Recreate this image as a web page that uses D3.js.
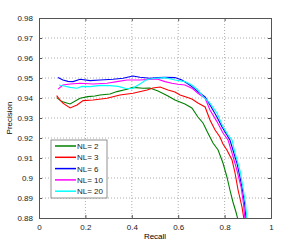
<!DOCTYPE html>
<html lang="en">
<head>
<meta charset="utf-8">
<title>precision recall</title>
<script src="https://cdn.jsdelivr.net/npm/d3@7"></script>
<style>
body { margin: 0; background: #fff; }
text { font-family: "Liberation Sans", Arial, sans-serif; }
</style>
</head>
<body>
<script>
var w = 300, h = 245;
var margin = {top: 18, right: 29, bottom: 27, left: 39};

// series names and colours
var names = ["NL= 2", "NL= 3", "NL= 6", "NL= 10", "NL= 20"];
var colors = ["#008000", "#ff0000", "#0000ff", "#ff00ff", "#00ffff"];

// [recall, precision]
var nl2 = [[0.076,0.9402],[0.098,0.9382],[0.134,0.937],[0.177,0.9399],[0.211,0.9407],[0.241,0.941],[0.263,0.9415],[0.306,0.942],[0.336,0.9432],[0.379,0.9444],[0.405,0.9453],[0.448,0.9449],[0.478,0.945],[0.513,0.9435],[0.556,0.941],[0.586,0.939],[0.629,0.937],[0.659,0.935],[0.685,0.9305],[0.707,0.9275],[0.728,0.9225],[0.75,0.9175],[0.772,0.914],[0.793,0.9075],[0.81,0.9005],[0.823,0.894],[0.836,0.888],[0.849,0.883],[0.858,0.879]];
var nl3 = [[0.076,0.9412],[0.091,0.939],[0.103,0.9374],[0.134,0.935],[0.164,0.9365],[0.19,0.9387],[0.233,0.939],[0.293,0.9399],[0.349,0.9415],[0.405,0.9424],[0.466,0.944],[0.491,0.945],[0.522,0.9455],[0.556,0.944],[0.586,0.943],[0.608,0.9415],[0.634,0.9405],[0.659,0.9395],[0.685,0.9375],[0.716,0.9355],[0.737,0.929],[0.759,0.924],[0.78,0.9205],[0.793,0.917],[0.81,0.914],[0.832,0.909],[0.845,0.9025],[0.858,0.894],[0.875,0.8855],[0.884,0.879]];
var nl6 = [[0.082,0.9503],[0.103,0.949],[0.125,0.9483],[0.147,0.9482],[0.177,0.9494],[0.22,0.9487],[0.263,0.949],[0.319,0.9494],[0.362,0.9499],[0.405,0.951],[0.435,0.9504],[0.478,0.9499],[0.513,0.9502],[0.543,0.9503],[0.586,0.9502],[0.616,0.949],[0.638,0.9474],[0.659,0.9457],[0.685,0.9432],[0.716,0.9405],[0.737,0.9365],[0.767,0.9305],[0.789,0.9255],[0.81,0.9215],[0.823,0.919],[0.832,0.9155],[0.853,0.9075],[0.866,0.9005],[0.877,0.894],[0.886,0.8875],[0.893,0.879]];
var nl10 = [[0.082,0.9444],[0.103,0.9465],[0.134,0.947],[0.177,0.9474],[0.233,0.947],[0.293,0.9474],[0.336,0.9482],[0.379,0.949],[0.435,0.949],[0.478,0.9493],[0.509,0.9495],[0.543,0.9482],[0.573,0.9474],[0.599,0.9469],[0.629,0.9465],[0.659,0.9449],[0.685,0.9424],[0.716,0.9399],[0.737,0.934],[0.767,0.9282],[0.793,0.9225],[0.815,0.919],[0.832,0.9125],[0.853,0.904],[0.871,0.8955],[0.881,0.8875],[0.888,0.879]];
var nl20 = [[0.086,0.9465],[0.108,0.946],[0.134,0.9453],[0.164,0.9449],[0.185,0.9458],[0.22,0.9457],[0.263,0.9463],[0.306,0.9462],[0.341,0.9458],[0.371,0.9449],[0.401,0.9447],[0.435,0.947],[0.461,0.949],[0.5,0.9499],[0.543,0.9502],[0.586,0.949],[0.629,0.9482],[0.659,0.9465],[0.685,0.944],[0.707,0.9407],[0.737,0.9374],[0.767,0.9325],[0.793,0.9257],[0.815,0.9215],[0.832,0.919],[0.845,0.9125],[0.866,0.904],[0.879,0.8955],[0.89,0.8875],[0.897,0.879]];
var series = [nl2, nl3, nl6, nl10, nl20];

var xTicks = [0, 0.2, 0.4, 0.6, 0.8, 1];
var yTicks = [0.88, 0.89, 0.9, 0.91, 0.92, 0.93, 0.94, 0.95, 0.96, 0.97, 0.98];

var iw = w - margin.left - margin.right;
var ih = h - margin.top - margin.bottom;

var xScale = d3.scaleLinear().domain([0, 1]).range([0, iw]);
var yScale = d3.scaleLinear().domain([0.88, 0.98]).range([ih, 0]);

var svg = d3.select("body").append("svg")
  .attr("width", w).attr("height", h);

var g = svg.append("g")
  .attr("transform", "translate(" + margin.left + "," + margin.top + ")");

g.append("clipPath").attr("id", "clip")
  .append("rect").attr("width", iw).attr("height", ih);

// grid
g.selectAll(".gx").data(xTicks.slice(1, -1)).enter().append("line")
  .attr("x1", d => xScale(d)).attr("x2", d => xScale(d))
  .attr("y1", 0).attr("y2", ih)
  .attr("stroke", "#999").attr("stroke-width", 0.8).attr("stroke-dasharray", "1,2");
g.selectAll(".gy").data(yTicks.slice(1, -1)).enter().append("line")
  .attr("y1", d => yScale(d)).attr("y2", d => yScale(d))
  .attr("x1", 0).attr("x2", iw)
  .attr("stroke", "#999").attr("stroke-width", 0.8).attr("stroke-dasharray", "1,2");

// curves
var line = d3.line().x(d => xScale(d[0])).y(d => yScale(d[1]));
g.append("g").attr("clip-path", "url(#clip)")
  .selectAll("path").data(series).enter().append("path")
  .attr("d", line)
  .attr("fill", "none")
  .attr("stroke", (d, i) => colors[i])
  .attr("stroke-width", 1.1);

// axes (ticks inside, like matlab)
var xAxis = d3.axisBottom(xScale).tickValues(xTicks).tickSize(-3).tickPadding(6)
  .tickFormat(d3.format("~g"));
var yAxis = d3.axisLeft(yScale).tickValues(yTicks).tickSize(-3).tickPadding(6)
  .tickFormat(d3.format("~g"));
var xTop = d3.axisTop(xScale).tickValues(xTicks).tickSize(-3).tickFormat("");
var yRight = d3.axisRight(yScale).tickValues(yTicks).tickSize(-3).tickFormat("");

g.append("g").attr("transform", "translate(0," + ih + ")").call(xAxis);
g.append("g").call(yAxis);
g.append("g").call(xTop);
g.append("g").attr("transform", "translate(" + iw + ",0)").call(yRight);

g.selectAll(".domain, .tick line").attr("stroke", "#555");
g.selectAll(".tick text").attr("font-size", "8px").attr("fill", "#222");

// labels
svg.append("text").attr("x", margin.left + iw / 2).attr("y", 239)
  .attr("text-anchor", "middle").attr("font-size", "8px").text("Recall");
svg.append("text")
  .attr("transform", "translate(12," + (margin.top + ih / 2) + ") rotate(-90)")
  .attr("text-anchor", "middle").attr("font-size", "8px").text("Precision");

// legend
var lg = svg.append("g").attr("transform", "translate(51,140)");
lg.append("rect").attr("width", 56).attr("height", 58)
  .attr("fill", "#fff").attr("stroke", "#777").attr("stroke-width", 0.8);
var items = lg.selectAll(".item").data(names).enter().append("g")
  .attr("transform", (d, i) => "translate(0," + (6 + i * 11.3) + ")");
items.append("line").attr("x1", 4).attr("x2", 25)
  .attr("stroke", (d, i) => colors[i]).attr("stroke-width", 1.5);
items.append("text").attr("x", 26).attr("y", 3)
  .attr("font-size", "8px").attr("fill", "#222").text(d => d);
</script>
</body>
</html>
